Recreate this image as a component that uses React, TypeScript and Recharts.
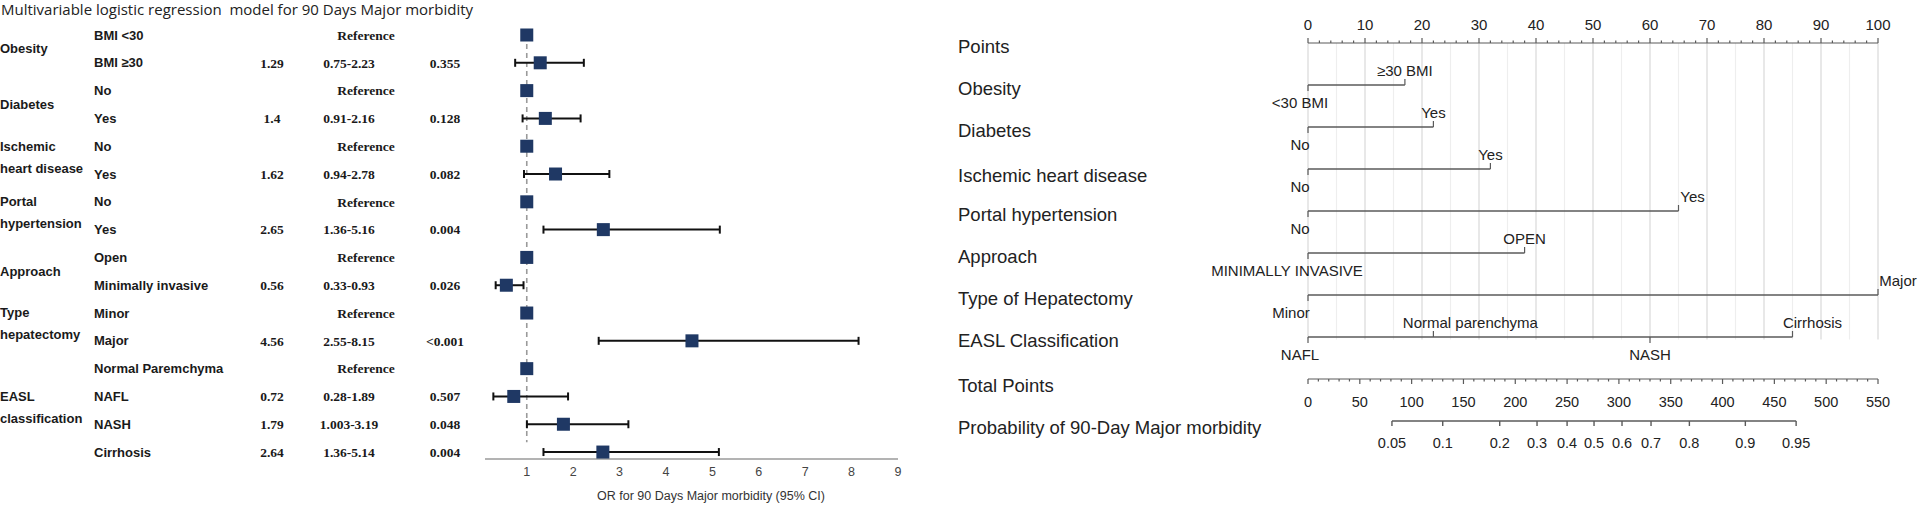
import React from "react";
import { ScatterChart, Scatter, XAxis, YAxis, ErrorBar, ReferenceLine } from "recharts";

// ---------- forest plot data ----------
const TITLE = "Multivariable logistic regression  model for 90 Days Major morbidity";
const OR_AXIS_TITLE = "OR for 90 Days Major morbidity (95% CI)";

const subgroupLabels = [
  "BMI <30", "BMI ≥30", "No", "Yes", "No", "Yes", "No", "Yes",
  "Open", "Minimally invasive", "Minor", "Major",
  "Normal Paremchyma", "NAFL", "NASH", "Cirrhosis",
];
const oddsRatios = [1, 1.29, 1, 1.4, 1, 1.62, 1, 2.65, 1, 0.56, 1, 4.56, 1, 0.72, 1.79, 2.64];
const ciLower = [null, 0.75, null, 0.91, null, 0.94, null, 1.36, null, 0.33, null, 2.55, null, 0.28, 1.003, 1.36];
const ciUpper = [null, 2.23, null, 2.16, null, 2.78, null, 5.16, null, 0.93, null, 8.15, null, 1.89, 3.19, 5.14];
const pValues = ["", "0.355", "", "0.128", "", "0.082", "", "0.004", "", "0.026", "", "<0.001", "", "0.507", "0.048", "0.004"];

const groupNames = [
  ["Obesity"], ["Diabetes"], ["Ischemic", "heart disease"], ["Portal", "hypertension"],
  ["Approach"], ["Type", "hepatectomy"], ["EASL", "classification"],
];
const groupStartRows = [0, 2, 4, 6, 8, 10, 12];
const orAxisTicks = [1, 2, 3, 4, 5, 6, 7, 8, 9];

// ---------- nomogram data ----------
const nomoRowNames = [
  "Points", "Obesity", "Diabetes", "Ischemic heart disease", "Portal hypertension",
  "Approach", "Type of Hepatectomy", "EASL Classification", "Total Points",
  "Probability of 90-Day Major morbidity",
];
const nomoLevelNames = [
  ["<30 BMI", "≥30 BMI"],
  ["No", "Yes"],
  ["No", "Yes"],
  ["No", "Yes"],
  ["MINIMALLY INVASIVE", "OPEN"],
  ["Minor", "Major"],
  ["NAFL", "Normal parenchyma", "NASH", "Cirrhosis"],
];
const nomoLevelPoints = [[0, 17], [0, 22], [0, 32], [0, 65], [0, 38], [0, 100], [0, 22, 60, 85]];
const pointsMajorTicks = [0, 10, 20, 30, 40, 50, 60, 70, 80, 90, 100];
const totalPointsTicks = [0, 50, 100, 150, 200, 250, 300, 350, 400, 450, 500, 550];
const probabilityLabels = ["0.05", "0.1", "0.2", "0.3", "0.4", "0.5", "0.6", "0.7", "0.8", "0.9", "0.95"];
const probabilityTotalPoints = [81, 130, 185, 221, 250, 276, 303, 331, 368, 422, 471];

// ---------- styles / layout ----------
const NAVY = "#1f3864";
const NOMO_LINE = "#5a5a5a";
const sansBold = { fontFamily: "'Liberation Sans', Arial, sans-serif", fontWeight: 700, fontSize: 13, fill: "#1a1a1a" };
const serifBold = { fontFamily: "'Liberation Serif', 'Times New Roman', serif", fontWeight: 700, fontSize: 13.5, fill: "#1a1a1a" };
const nomoFont = { fontFamily: "'Liberation Sans', Arial, sans-serif", fill: "#222" };

const FOREST_H = 510;
const FOREST_MARGIN = { top: 35, right: 42, bottom: 1, left: 484 };
const FOREST_XAXIS_H = 50;
const ROW_DOMAIN_MAX = 15.25;
const ROW_PX = (FOREST_H - FOREST_MARGIN.top - FOREST_MARGIN.bottom - FOREST_XAXIS_H) / ROW_DOMAIN_MAX;

// label nudges (px) for the nomogram level labels, keyed "variable:label"
const levelLabelShift: Record<string, number> = {
  "3:Yes": 14,
  "4:MINIMALLY INVASIVE": -21,
  "5:Minor": -17,
  "5:Major": 20,
  "6:Normal parenchyma": 37,
  "6:Cirrhosis": 20,
};

// ---------- derived ----------
const rowIdx = subgroupLabels.map((_, i) => i);
const referencePoints = rowIdx.filter((i) => ciLower[i] == null).map((i) => ({ or: oddsRatios[i], row: i }));
const estimatePoints = rowIdx
  .filter((i) => ciLower[i] != null)
  .map((i) => ({
    or: oddsRatios[i],
    row: i,
    ci: [oddsRatios[i] - (ciLower[i] as number), (ciUpper[i] as number) - oddsRatios[i]],
  }));

const Square = (props: any) => {
  const { cx, cy } = props;
  if (cx == null || cy == null) return null;
  return <rect x={cx - 6.5} y={cy - 6.5} width={13} height={13} fill={NAVY} />;
};

const ForestRowTick = (props: any) => {
  const { y, payload } = props;
  const i = payload.value;
  const isRef = ciLower[i] == null;
  const g = groupStartRows.indexOf(i);
  let group = null;
  if (g >= 0) {
    const end = g + 1 < groupStartRows.length ? groupStartRows[g + 1] - 1 : subgroupLabels.length - 1;
    const lines = groupNames[g];
    const center = y + ((end - i) / 2) * ROW_PX + (lines.length > 1 ? -3 : 0);
    group = (
      <text style={sansBold}>
        {lines.map((l, k) => (
          <tspan key={k} x={0} y={center + (k - (lines.length - 1) / 2) * 22} dy="0.35em">{l}</tspan>
        ))}
      </text>
    );
  }
  return (
    <g>
      {group}
      <text x={94} y={y} dy="0.35em" style={sansBold}>{subgroupLabels[i]}</text>
      {isRef ? (
        <text x={366} y={y} dy="0.35em" textAnchor="middle" style={serifBold}>Reference</text>
      ) : (
        <g>
          <text x={272} y={y} dy="0.35em" textAnchor="middle" style={serifBold}>{String(oddsRatios[i])}</text>
          <text x={349} y={y} dy="0.35em" textAnchor="middle" style={serifBold}>{`${ciLower[i]}-${ciUpper[i]}`}</text>
          <text x={445} y={y} dy="0.35em" textAnchor="middle" style={serifBold}>{pValues[i]}</text>
        </g>
      )}
    </g>
  );
};

function ForestPlot() {
  return (
    <ScatterChart width={940} height={FOREST_H} margin={FOREST_MARGIN}>
      <XAxis
        type="number"
        dataKey="or"
        domain={[0.1, 9]}
        ticks={orAxisTicks}
        interval={0}
        tickLine={false}
        axisLine={{ stroke: "#9a9a9a", strokeWidth: 1.5 }}
        tick={{ fill: "#444", fontSize: 12.5, fontFamily: "'Liberation Sans', Arial, sans-serif" }}
        height={FOREST_XAXIS_H}
      />
      <YAxis
        yAxisId="rows"
        type="number"
        dataKey="row"
        domain={[0, ROW_DOMAIN_MAX]}
        reversed
        ticks={rowIdx}
        interval={0}
        width={1}
        axisLine={false}
        tickLine={false}
        tick={<ForestRowTick />}
      />
      <ReferenceLine
        yAxisId="rows"
        segment={[{ x: 1, y: 0 }, { x: 1, y: 14.65 }]}
        stroke="#9a9a9a"
        strokeWidth={1.6}
        strokeDasharray="5 4"
      />
      <Scatter yAxisId="rows" data={referencePoints} shape={Square} isAnimationActive={false} />
      <Scatter yAxisId="rows" data={estimatePoints} shape={Square} isAnimationActive={false}>
        <ErrorBar dataKey="ci" direction="x" width={4} stroke="#111" strokeWidth={2} />
      </Scatter>
    </ScatterChart>
  );
}

// ---------- nomogram ----------
const pointsAllTicks = Array.from({ length: 51 }, (_, k) => k * 2);
const totalAllTicks = Array.from({ length: 56 }, (_, k) => k * 10);
const gridValues = Array.from({ length: 21 }, (_, k) => k * 5);

const levelData = nomoLevelNames.map((names, v) =>
  names.map((name, j) => ({ x: nomoLevelPoints[v][j], y: v + 1, name, j, v }))
);
const totalData = totalAllTicks.map((t) => ({ x: t, y: 8, major: totalPointsTicks.includes(t) }));
const probData = probabilityLabels.map((p, k) => ({ x: probabilityTotalPoints[k], y: 9, label: p }));

const PointsTick = (props: any) => {
  const { x, y, payload } = props;
  const major = pointsMajorTicks.includes(payload.value);
  return (
    <g>
      <line x1={x} x2={x} y1={y} y2={y - (major ? 5 : 2.5)} stroke={NOMO_LINE} strokeWidth={1.2} />
      {major && (
        <text x={x} y={y - 13} textAnchor="middle" style={{ ...nomoFont, fontSize: 15 }}>{payload.value}</text>
      )}
    </g>
  );
};

const NomoRowTick = (props: any) => {
  const { y, payload } = props;
  const name = nomoRowNames[payload.value];
  const dy = payload.value === 3 || payload.value >= 8 ? 13 : 10;
  return (
    <text x={18} y={y + dy} style={{ ...nomoFont, fontSize: 18.5 }}>{name}</text>
  );
};

const LevelMark = (props: any) => {
  const { cx, cy, payload } = props;
  if (cx == null || cy == null) return null;
  const above = payload.j % 2 === 1;
  const key = `${payload.v}:${payload.name}`;
  const dx = levelLabelShift[key] ?? (!above && payload.x === 0 ? -8 : 0);
  return (
    <g>
      <line x1={cx} x2={cx} y1={cy} y2={above ? cy - 6 : cy + 6} stroke={NOMO_LINE} strokeWidth={1.2} />
      <text x={cx + dx} y={above ? cy - 9 : cy + 23} textAnchor="middle" style={{ ...nomoFont, fontSize: 15 }}>
        {payload.name}
      </text>
    </g>
  );
};

const TotalMark = (props: any) => {
  const { cx, cy, payload } = props;
  if (cx == null || cy == null) return null;
  return (
    <g>
      <line x1={cx} x2={cx} y1={cy} y2={cy + (payload.major ? 5 : 2.5)} stroke={NOMO_LINE} strokeWidth={1.2} />
      {payload.major && (
        <text x={cx} y={cy + 28} textAnchor="middle" style={{ ...nomoFont, fontSize: 14.5 }}>{payload.x}</text>
      )}
    </g>
  );
};

const ProbMark = (props: any) => {
  const { cx, cy, payload } = props;
  if (cx == null || cy == null) return null;
  return (
    <g>
      <line x1={cx} x2={cx} y1={cy} y2={cy + 5} stroke={NOMO_LINE} strokeWidth={1.4} />
      <text x={cx} y={cy + 27} textAnchor="middle" style={{ ...nomoFont, fontSize: 14.5 }}>{payload.label}</text>
    </g>
  );
};

function Nomogram() {
  return (
    <ScatterChart width={980} height={510} margin={{ top: 13, right: 42, bottom: 68, left: 0 }}>
      <XAxis
        xAxisId="pts"
        orientation="top"
        type="number"
        dataKey="x"
        domain={[0, 100]}
        ticks={pointsAllTicks}
        interval={0}
        tickSize={0}
        tickMargin={0}
        tickLine={false}
        axisLine={{ stroke: NOMO_LINE, strokeWidth: 1.2 }}
        tick={<PointsTick />}
        height={30}
      />
      <XAxis xAxisId="total" type="number" dataKey="x" domain={[0, 550]} hide />
      <YAxis
        yAxisId="r"
        type="number"
        dataKey="y"
        domain={[0, 9.5]}
        reversed
        ticks={nomoRowNames.map((_, i) => i)}
        interval={0}
        width={368}
        axisLine={false}
        tickLine={false}
        tick={<NomoRowTick />}
      />
      {gridValues.map((g) => (
        <ReferenceLine
          key={g}
          xAxisId="pts"
          yAxisId="r"
          segment={[{ x: g, y: 0 }, { x: g, y: 7.06 }]}
          stroke={g % 10 === 0 ? "#d9d9d9" : "#eeeeee"}
          strokeWidth={1.2}
        />
      ))}
      {levelData.map((d, v) => (
        <Scatter
          key={v}
          xAxisId="pts"
          yAxisId="r"
          data={d}
          line={{ stroke: NOMO_LINE, strokeWidth: 1.4 }}
          shape={LevelMark}
          isAnimationActive={false}
        />
      ))}
      <Scatter
        xAxisId="total"
        yAxisId="r"
        data={totalData}
        line={{ stroke: NOMO_LINE, strokeWidth: 1.2 }}
        shape={TotalMark}
        isAnimationActive={false}
      />
      <Scatter
        xAxisId="total"
        yAxisId="r"
        data={probData}
        line={{ stroke: NOMO_LINE, strokeWidth: 1.4 }}
        shape={ProbMark}
        isAnimationActive={false}
      />
    </ScatterChart>
  );
}

export default function App() {
  return (
    <div style={{ position: "absolute", left: 0, top: 0, width: 1920, height: 510, background: "#fff" }}>
      <div
        style={{
          position: "absolute",
          left: 1,
          top: 0,
          fontFamily: "'Open Sans', 'Noto Sans', sans-serif",
          fontSize: 15,
          lineHeight: "19px",
          color: "#222",
          whiteSpace: "pre",
        }}
      >
        {TITLE}
      </div>
      <div style={{ position: "absolute", left: 0, top: 0 }}>
        <ForestPlot />
      </div>
      <div
        style={{
          position: "absolute",
          left: 561,
          top: 489,
          width: 300,
          textAlign: "center",
          fontFamily: "'Liberation Sans', Arial, sans-serif",
          fontSize: 12.5,
          color: "#333",
        }}
      >
        {OR_AXIS_TITLE}
      </div>
      <div style={{ position: "absolute", left: 940, top: 0 }}>
        <Nomogram />
      </div>
    </div>
  );
}
